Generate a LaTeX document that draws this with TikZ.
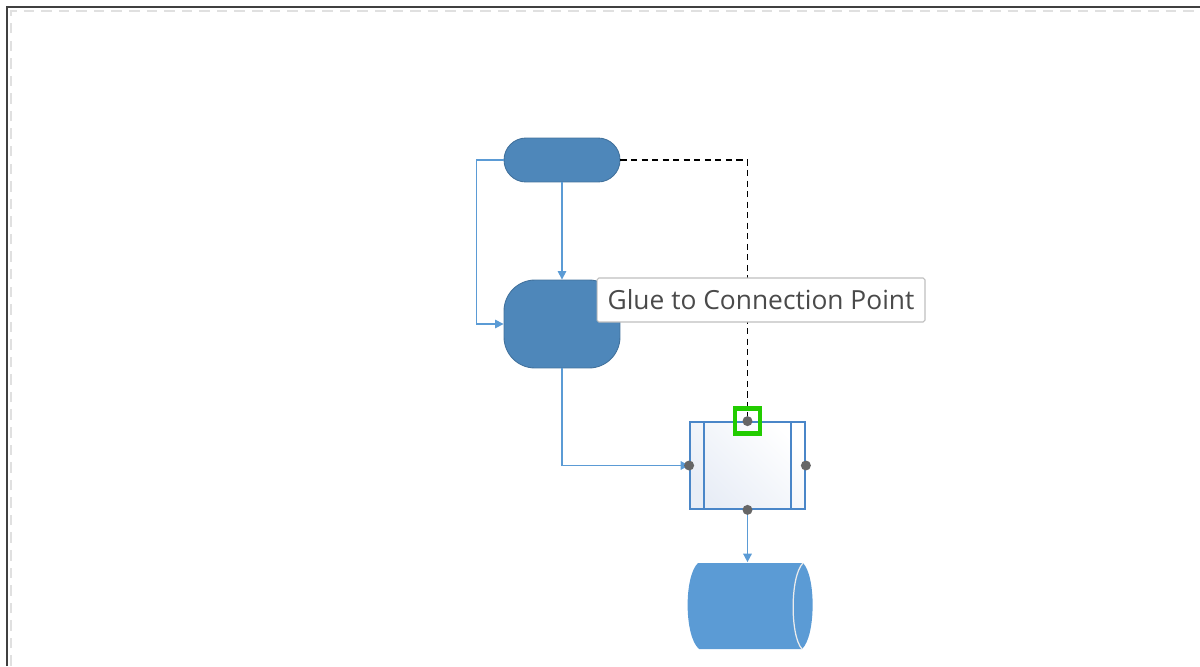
\documentclass[tikz,border=0pt]{standalone}
\usepackage{fontspec}
\setmainfont{Open Sans}
\usepackage{tikz}
\usetikzlibrary{arrows.meta}
\usetikzlibrary{positioning}
\definecolor{shapefill}{HTML}{4E87BA}
\definecolor{shapeline}{HTML}{41719C}
\definecolor{flowline}{HTML}{5B9BD5}
\definecolor{storefill}{HTML}{5B9BD5}
\definecolor{subline}{HTML}{4A86C8}
\definecolor{subfill}{HTML}{E8EDF6}
\definecolor{dotgray}{HTML}{666666}
\definecolor{gluegreen}{HTML}{22CC00}
\definecolor{tiptext}{HTML}{4A4A4A}

\begin{document}
\begin{tikzpicture}[x=0.02cm, y=-0.02cm]
			\tikzset{terminal/.style = {shape=rectangle, draw=shapeline, fill=shapefill,
					line width=0.5pt, inner sep=0pt, minimum width=2.32cm,
					minimum height=0.88cm, rounded corners=0.44cm}}
			\tikzset{process/.style = {terminal, minimum height=1.76cm,
					rounded corners=0.62cm}}
			\tikzset{subproc/.style = {shape=rectangle, draw=subline, line width=1pt,
					top color=subfill, bottom color=white, shading angle=135,
					inner sep=0pt, minimum width=2.3cm, minimum height=1.74cm}}
			\tikzset{flow/.style = {-{Triangle[length=0.17cm, width=0.17cm]},
					draw=flowline, line width=0.85pt}}
			\tikzset{glueline/.style = {black, line width=0.9pt, dash pattern=on 3.5pt off 2.5pt}}
			\tikzset{gluebox/.style = {shape=rectangle, draw=gluegreen, line width=2.8pt,
					minimum size=0.5cm, inner sep=0pt}}
			\tikzset{tipbox/.style = {shape=rectangle, draw=black!25, fill=white,
					rounded corners=1pt, line width=0.6pt, minimum width=6.56cm,
					minimum height=0.88cm, inner sep=0pt, text=tiptext,
					font=\fontsize{15}{18}\selectfont}}
			
			\useasboundingbox (0,0) rectangle (1200,666);
			
			% page edge
			\draw[black!12, line width=0.6pt, dash pattern=on 6pt off 4pt] (11,666) -- (11,11) -- (1200,11);
			\draw[black!75, line width=1.2pt] (7,666) -- (7,7) -- (1200,7);
			
			% shapes
			\node[terminal] (start) at (562,160) {};
			\node[process] (proc) at (562,324) {};
			\node[subproc] (sub) at (747.5,465.5) {};
			\node[minimum width=2.46cm, minimum height=1.74cm, inner sep=0pt] (store) at (747.5,606) {};
			
			\draw[subline, line width=1pt] (sub.north west) ++(15,0) -- ++(0,87);
			\draw[subline, line width=1pt] (sub.north east) ++(-15,0) -- ++(0,87);
			
			\fill[storefill] (698,563) -- (803,563) .. controls (816,576) and (816,636) .. (802,649)
				-- (699,649) .. controls (684,636) and (684,576) .. (698,563) -- cycle;
			\draw[white!85!gray, line width=0.7pt] (803,563) .. controls (790,576) and (790,636) .. (802,649);
			
			%edges
			\draw[flow] (start.west) -- ++(-27,0) |- (proc.west);
			\draw[flow] (start) -- (proc);
			\draw[flow] (proc.south) |- (sub.west);
			\draw[flow] (sub.south) -- (store.north);
			\draw[glueline] (start.east) -| (sub.north);
			
			% connection points
			\node[gluebox] (glue) at (sub.north) {};
			\foreach \pt in {north,south,east,west}
				\fill[dotgray] (sub.\pt) circle (0.1cm);
			
			\node[tipbox] (tip) at (761,300) {Glue to Connection Point};
			
\end{tikzpicture}
\end{document}
